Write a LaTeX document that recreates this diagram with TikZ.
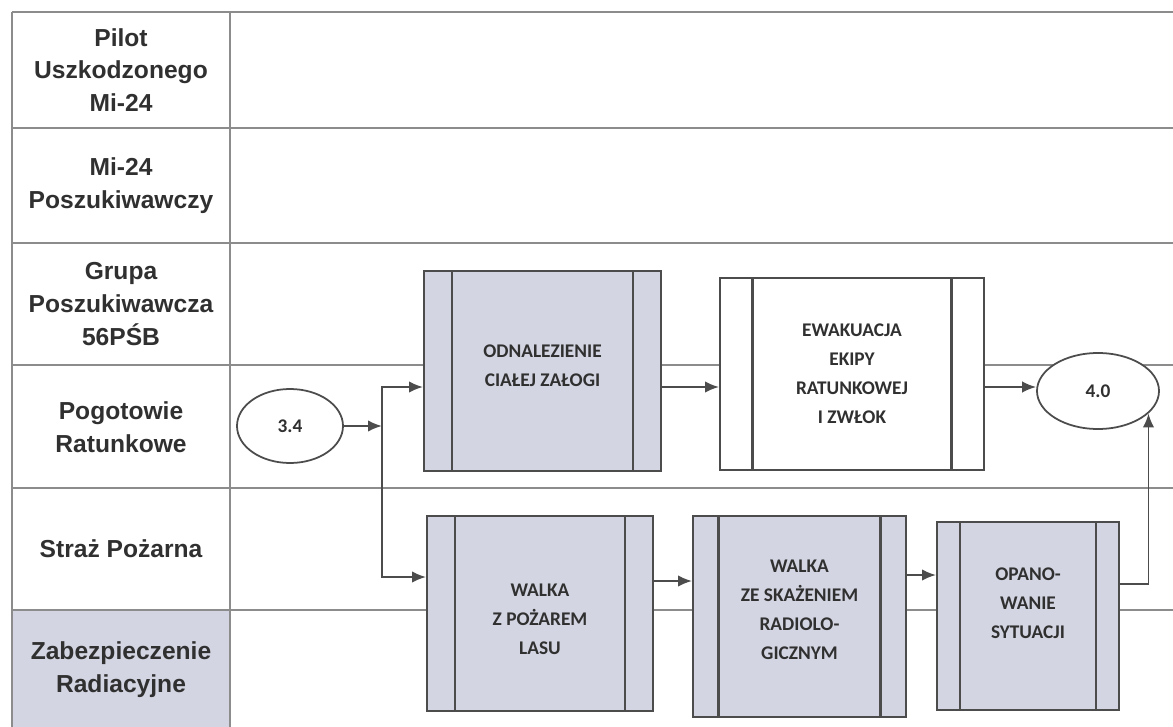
\documentclass[tikz,border=0pt]{standalone}
\usepackage{fontspec}
\setmainfont{Liberation Sans}
\newfontfamily\boxfont{Carlito}
\usepackage{xcolor}
\usepackage{tikz}
\usetikzlibrary{arrows.meta,shapes.geometric}
\definecolor{grid}{HTML}{8C8C8C}
\definecolor{edge}{HTML}{4C4C4C}
\definecolor{ink}{HTML}{303030}
\definecolor{lav}{HTML}{D3D5E2}
\tikzset{
  lane/.style={line width=1.1pt, draw=grid},
  head/.style={text=ink, font=\fontsize{14}{18.7}\selectfont\bfseries, align=center},
  proc/.style={draw=edge, line width=1.1pt, fill=lav, inner sep=0pt, align=center,
    text=ink, font=\boxfont\fontsize{11}{16.5}\selectfont\bfseries,
    path picture={
      \draw[edge, line width=1.5pt]
        ([xshift=#1]path picture bounding box.north west) -- ([xshift=#1]path picture bounding box.south west)
        ([xshift=-#1]path picture bounding box.north east) -- ([xshift=-#1]path picture bounding box.south east);
    }},
  proc/.default=0.56cm,
  term/.style={ellipse, draw=edge, line width=1pt, fill=white, inner sep=0pt,
    text=ink, font=\boxfont\fontsize{11}{13}\selectfont\bfseries},
  arr/.style={draw=edge, line width=1.1pt, -{Latex[length=2.8mm,width=2.3mm]}},
}

\begin{document}
\begin{tikzpicture}[x=0.2mm, y=-0.2mm]
  \useasboundingbox (0,0) rectangle (1173,727);

  % swim lanes
  \fill[lav] (12,610) rectangle (230,727);
  \foreach \y in {12,128,243,365,488,610}
    \draw[lane] (12,\y) -- (1173,\y);
  \draw[lane] (12,12) -- (12,727);
  \draw[lane] (230,12) -- (230,727);

  \node[head] (hpilot) at (121,70)  {Pilot\\Uszkodzonego\\Mi-24};
  \node[head] (hmi)    at (121,186) {Mi-24\\Poszukiwawczy};
  \node[head] (hgrupa) at (121,304) {Grupa\\Poszukiwawcza\\56PŚB};
  \node[head] (hpogo)  at (121,427) {Pogotowie\\Ratunkowe};
  \node[head] (hstraz) at (121,549) {Straż Pożarna};
  \node[head] (hzab)   at (121,670) {Zabezpieczenie\\Radiacyjne};

  % steps
  \node[term] (e34) at (290,426)  [minimum width=2.12cm, minimum height=1.48cm] {3.4};
  \node[term] (e40) at (1098,391) [minimum width=2.44cm, minimum height=1.52cm] {4.0};

  \node[proc, text depth=0.2cm] (odn) at (542.5,371) [minimum width=4.74cm, minimum height=4cm]
    {ODNALEZIENIE\\CIAŁEJ ZAŁOGI};
  \node[proc=0.65cm, fill=white] (ewak) at (852,374) [minimum width=5.28cm, minimum height=3.84cm]
    {EWAKUACJA\\EKIPY\\RATUNKOWEJ\\I ZWŁOK};
  \node[proc, text height=1.65cm] (walka) at (540,613.5) [minimum width=4.52cm, minimum height=3.9cm]
    {WALKA\\Z POŻAREM\\LASU};
  \node[proc=0.51cm, text depth=0.28cm] (skaz) at (799.5,616.5) [minimum width=4.26cm, minimum height=4.02cm]
    {WALKA\\ZE SKAŻENIEM\\RADIOLO-\\GICZNYM};
  \node[proc=0.46cm, text depth=0.5cm] (opano) at (1028,616) [minimum width=3.64cm, minimum height=3.76cm]
    {OPANO-\\WANIE\\SYTUACJI};

  % flow
  \coordinate (fork) at (382,426);
  \coordinate (top)  at (382,387);
  \coordinate (bot)  at (382,577);
  \draw[arr] (e34) -- (fork);
  \draw[arr] (fork) |- (odn.west |- top);
  \draw[arr] (fork) |- (walka.west |- bot);
  \draw[arr] (odn.east |- top) -- (ewak.west |- top);
  \draw[arr] (ewak.east |- top) -- (e40.west |- top);
  \draw[arr] (walka.east |- 0,581) -- (skaz.west |- 0,581);
  \draw[arr] (skaz.east |- 0,575) -- (opano.west |- 0,575);
  \draw[arr] (opano.east |- 0,584) -| (e40.-24);
\end{tikzpicture}
\end{document}
